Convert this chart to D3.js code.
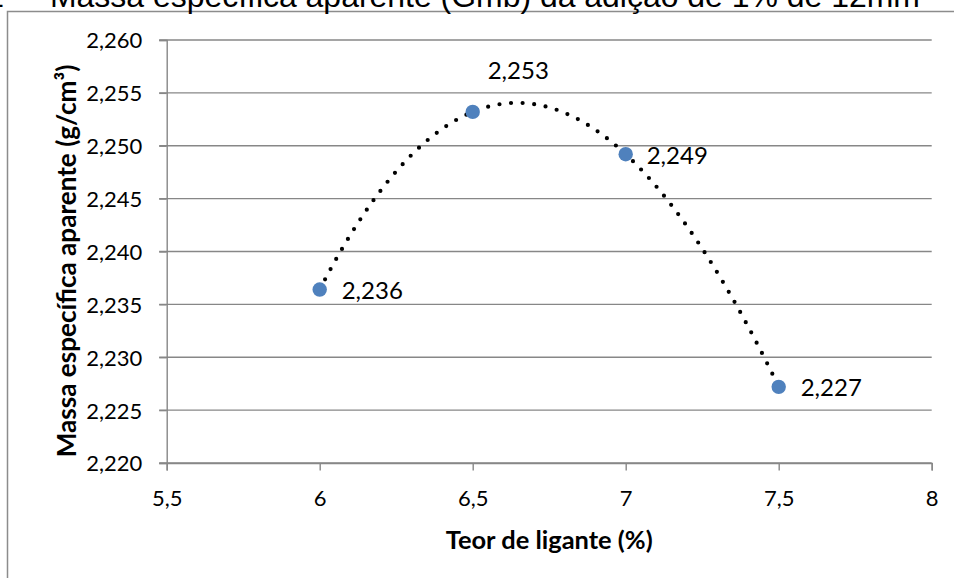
<!DOCTYPE html>
<html><head><meta charset="utf-8">
<script src="https://cdn.jsdelivr.net/npm/d3@7"></script>
<style>html,body{margin:0;padding:0;background:#fff;overflow:hidden}</style>
</head><body>
<svg id="c" width="954" height="578"></svg>
<script>
// ---- data ----
const teor = [6, 6.5, 7, 7.5];                 // Teor de ligante (%)
const gmb = [2.2364, 2.2532, 2.2492, 2.2272];  // Massa específica aparente (g/cm³)
const xTicks = [5.5, 6, 6.5, 7, 7.5, 8];
const yTicks = [2.22, 2.225, 2.23, 2.235, 2.24, 2.245, 2.25, 2.255, 2.26];
const titleText = "Massa específica aparente (Gmb) da adição de 1% de 12mm";
const titlePrefix = "Gráfico 1";
const xTitle = "Teor de ligante (%)";
const yTitle = "Massa específica aparente (g/cm³)";

// ---- layout / style ----
const labelOffsets = [[22, 9], [15, -33], [21, 10], [22, 9.5]];
const grid = "#878787";
const markerColor = "#4F81BD";
const font = "Lato, 'Open Sans', sans-serif";

const locale = d3.formatLocale({decimal: ",", thousands: ".", grouping: [3], currency: ["", ""]});
const fy = locale.format(".3f");
const fx = locale.format("~f");

const svg = d3.select("#c");
const x = d3.scaleLinear().domain([5.5, 8]).range([166.7, 931.7]);
const y = d3.scaleLinear().domain([2.22, 2.26]).range([463, 40]);

// outer frame
svg.append("rect").attr("x", 7.5).attr("y", 11.5).attr("width", 1000).attr("height", 1000)
  .attr("fill", "none").attr("stroke", "#8c8c8c").attr("stroke-width", 1.5);

// title (clipped at top)
function fitText(sel, target) {
  const fs = parseFloat(sel.attr("font-size"));
  const w = sel.node().getComputedTextLength();
  sel.attr("font-size", fs * target / w);
}
const t = svg.append("text").attr("x", 50).attr("y", 7)
  .attr("font-family", "'Liberation Sans', Arial, sans-serif").attr("font-size", 24)
  .attr("fill", "#000").text(titleText);
fitText(t, 870);
svg.append("text").attr("x", 4).attr("y", 7).attr("text-anchor", "end")
  .attr("font-family", "'Liberation Sans', Arial, sans-serif").attr("font-size", t.attr("font-size"))
  .attr("fill", "#000").text(titlePrefix);

// gridlines
svg.append("g").selectAll("line").data(yTicks).join("line")
  .attr("x1", x(5.5) - 7.5).attr("x2", x(8))
  .attr("y1", d => y(d)).attr("y2", d => y(d))
  .attr("stroke", grid).attr("stroke-width", 1.4);

// y axis
const yAxis = svg.append("g").attr("transform", `translate(${x(5.5)},0)`)
  .call(d3.axisLeft(y).tickValues(yTicks).tickFormat(fy).tickSize(7.5).tickPadding(17));
// x axis
const xAxis = svg.append("g").attr("transform", `translate(0,${y(2.22)})`)
  .call(d3.axisBottom(x).tickValues(xTicks).tickFormat(fx).tickSize(7.5).tickPadding(20));
[yAxis, xAxis].forEach(a => {
  a.selectAll("path.domain").attr("stroke", grid).attr("stroke-width", 1.4);
  a.selectAll(".tick line").attr("stroke", grid).attr("stroke-width", 1.4);
  a.selectAll(".tick text").attr("font-family", font).attr("font-size", 22).attr("fill", "#000");
});
yAxis.selectAll(".tick text").attr("dy", "0.36em");
xAxis.selectAll(".tick text").attr("dy", "0.71em");

// axis titles
const xt = svg.append("text").attr("x", (x(5.5) + x(8)) / 2).attr("y", 549)
  .attr("text-anchor", "middle").attr("font-family", font).attr("font-weight", "bold")
  .attr("font-size", 22).attr("fill", "#000").text(xTitle);
fitText(xt, 207);
const yt = svg.append("text").attr("transform", "translate(76,261) rotate(-90)")
  .attr("text-anchor", "middle").attr("font-family", font).attr("font-weight", "bold")
  .attr("font-size", 22).attr("fill", "#000").text(yTitle);
fitText(yt, 393);

// cubic polynomial trendline (least squares)
function polyFit(xs, ys, deg) {
  const n = deg + 1;
  const A = Array.from({length: n}, () => new Array(n + 1).fill(0));
  xs.forEach((xv, k) => {
    for (let i = 0; i < n; i++) {
      for (let j = 0; j < n; j++) A[i][j] += Math.pow(xv - 6.75, i + j);
      A[i][n] += ys[k] * Math.pow(xv - 6.75, i);
    }
  });
  for (let i = 0; i < n; i++) {
    let p = i;
    for (let r = i + 1; r < n; r++) if (Math.abs(A[r][i]) > Math.abs(A[p][i])) p = r;
    [A[i], A[p]] = [A[p], A[i]];
    for (let r = 0; r < n; r++) {
      if (r === i) continue;
      const f = A[r][i] / A[i][i];
      for (let c = i; c <= n; c++) A[r][c] -= f * A[i][c];
    }
  }
  const coef = A.map((row, i) => row[n] / row[i]);
  return v => coef.reduce((s, c, i) => s + c * Math.pow(v - 6.75, i), 0);
}
const f = polyFit(teor, gmb, 3);
const xs = d3.range(0, 301).map(i => d3.min(teor) + (d3.max(teor) - d3.min(teor)) * i / 300);
svg.append("path").datum(xs)
  .attr("d", d3.line().x(d => x(d)).y(d => y(f(d))))
  .attr("fill", "none").attr("stroke", "#000").attr("stroke-width", 4.2)
  .attr("stroke-linecap", "round").attr("stroke-dasharray", "0 11.6");

// markers
svg.append("g").selectAll("circle").data(teor).join("circle")
  .attr("cx", d => x(d)).attr("cy", (d, i) => y(gmb[i])).attr("r", 7.2)
  .attr("fill", markerColor);

// data labels
svg.append("g").selectAll("text").data(teor).join("text")
  .attr("x", (d, i) => x(d) + labelOffsets[i][0])
  .attr("y", (d, i) => y(gmb[i]) + labelOffsets[i][1])
  .attr("font-family", font).attr("font-size", 24).attr("fill", "#000")
  .text((d, i) => fy(gmb[i]));
</script>
</body></html>
